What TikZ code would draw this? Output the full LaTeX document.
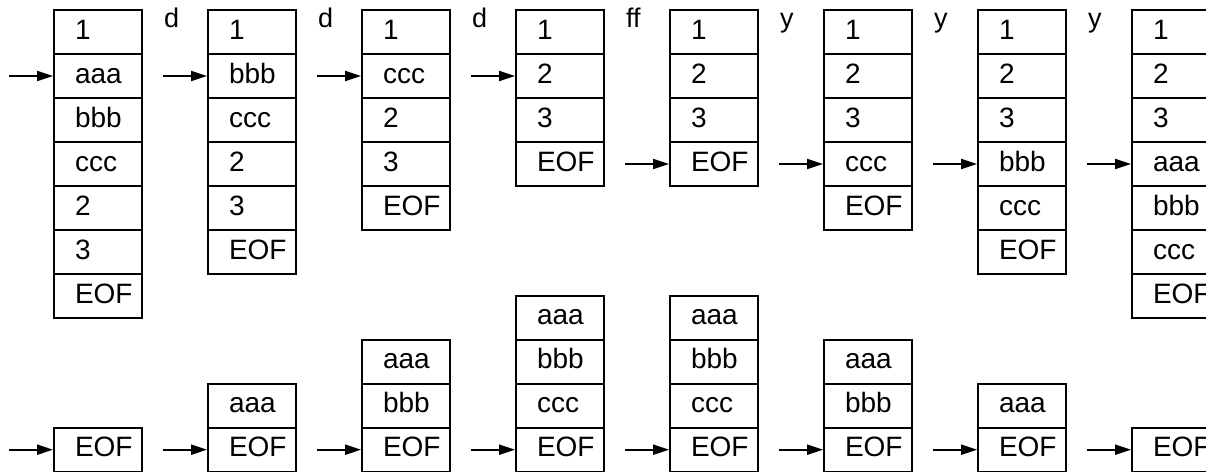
\documentclass[tikz,border=0pt]{standalone}
\usepackage{fontspec}
\setmainfont{Liberation Sans}
\usetikzlibrary{arrows.meta}
\begin{document}
\begin{tikzpicture}[x=1pt,y=-1pt,
  cell/.style={draw, line width=1.9pt, rectangle, minimum width=88pt, minimum height=44pt,
    inner sep=0pt, text width=88pt, align=left, text height=20pt, text depth=6pt,
    font=\fontsize{28}{30}\selectfont, execute at begin node={\hspace*{21pt}}},
  lbl/.style={anchor=base west, inner sep=0pt, font=\fontsize{27}{30}\selectfont},
  arr/.style={line width=1.9pt, -{Triangle[length=16pt,width=10pt]}}]
\useasboundingbox (0,0) rectangle (1206,471);
\clip (0,0) rectangle (1206,471);
% top row
\foreach \col/\items/\ar in {
  1/{1,aaa,bbb,ccc,2,3,EOF}/2,
  2/{1,bbb,ccc,2,3,EOF}/2,
  3/{1,ccc,2,3,EOF}/2,
  4/{1,2,3,EOF}/2,
  5/{1,2,3,EOF}/4,
  6/{1,2,3,ccc,EOF}/4,
  7/{1,2,3,bbb,ccc,EOF}/4,
  8/{1,2,3,aaa,bbb,ccc,EOF}/4}{
  \foreach \t [count=\r] in \items {
    \node[cell] (t\col-\r) at ({54+44+154*(\col-1)}, {10+22+44*(\r-1)}) {\t};
  }
  \path (t\col-\ar.west) ++(-44,0) coordinate (ts\col);
  \draw[arr] (ts\col) -- (t\col-\ar.west);
}
% operation labels
\foreach \k/\t in {1/d,2/d,3/d,4/ff,5/y,6/y,7/y}{
  \node[lbl] (l\k) at ({142+22+154*(\k-1)}, 27.5) {\t};
}
% bottom row (listed from bottom to top)
\foreach \col/\items in {
  1/{EOF},
  2/{EOF,aaa},
  3/{EOF,bbb,aaa},
  4/{EOF,ccc,bbb,aaa},
  5/{EOF,ccc,bbb,aaa},
  6/{EOF,bbb,aaa},
  7/{EOF,aaa},
  8/{EOF}}{
  \foreach \t [count=\r] in \items {
    \node[cell] (b\col-\r) at ({54+44+154*(\col-1)}, {449.7-44*(\r-1)}) {\t};
  }
  \path (b\col-1.west) ++(-44,0) coordinate (bs\col);
  \draw[arr] (bs\col) -- (b\col-1.west);
}
\end{tikzpicture}
\end{document}
